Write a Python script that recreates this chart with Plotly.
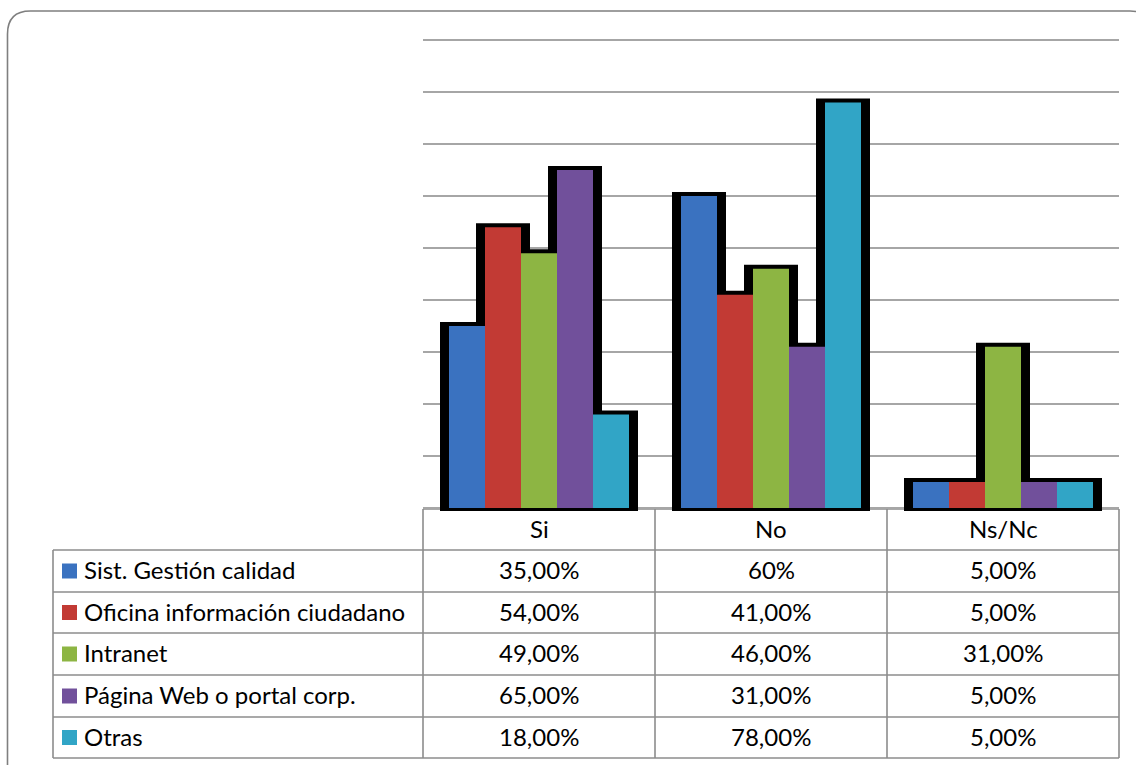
import plotly.graph_objects as go

# --- data -------------------------------------------------------------
categories = ["Si", "No", "Ns/Nc"]
series_names = [
    "Sist. Gestión calidad",
    "Oficina información ciudadano",
    "Intranet",
    "Página Web o portal corp.",
    "Otras",
]
sist_gestion = ["35,00%", "60%", "5,00%"]
oficina_info = ["54,00%", "41,00%", "5,00%"]
intranet = ["49,00%", "46,00%", "31,00%"]
pagina_web = ["65,00%", "31,00%", "5,00%"]
otras = ["18,00%", "78,00%", "5,00%"]
series_labels = [sist_gestion, oficina_info, intranet, pagina_web, otras]
colors = ["#3a72c0", "#c23a34", "#8db543", "#71509b", "#31a5c6"]
y_ticks = [0, 10, 20, 30, 40, 50, 60, 70, 80, 90]


def pct(s):
    return float(s.replace("%", "").replace(",", "."))


# --- page geometry (pixels) ------------------------------------------
W, H = 1136, 765
plot_l, plot_r = 423, 1119
zero_px, top_tick_px = 508, 40
plot_top, plot_bot = top_tick_px - 2, 511
px_per_x = (plot_r - plot_l) / len(categories)
px_per_y = (zero_px - top_tick_px) / y_ticks[-1]


def X(p):
    return p / W


def Y(p):
    return 1 - p / H


bar_w = 36 / px_per_x
group_w = bar_w * len(series_names)
side_pad = 9 / px_per_x
top_pad = 4 / px_per_y
y_min = -(plot_bot - zero_px) / px_per_y
y_max = y_ticks[-1] + (top_tick_px - plot_top) / px_per_y

xs = list(range(len(categories)))
fig = go.Figure()

# black silhouette behind each group
for i, labels in enumerate(series_labels):
    vals = [pct(s) for s in labels]
    fig.add_trace(go.Bar(
        x=xs, y=[v + top_pad - y_min for v in vals], base=y_min,
        width=bar_w + 2 * side_pad, offset=-group_w / 2 + i * bar_w - side_pad,
        marker=dict(color="#000000", line=dict(width=0)),
        hoverinfo="skip", showlegend=False,
    ))

# coloured bars
for i, (name, labels) in enumerate(zip(series_names, series_labels)):
    vals = [pct(s) for s in labels]
    fig.add_trace(go.Bar(
        x=xs, y=vals, name=name,
        width=bar_w, offset=-group_w / 2 + i * bar_w,
        marker=dict(color=colors[i], line=dict(width=0)),
        showlegend=False,
    ))

# --- data table below the plot ---------------------------------------
font = dict(family="Lato, 'Open Sans', sans-serif", size=24, color="#000000")
line_c = "#8c8c8c"
shapes = []
annotations = []

col_edges = [plot_l + k * px_per_x for k in range(len(categories) + 1)]
head_top, head_bot = 509, 550
row_edges = [550, 592, 633, 675, 717, 758]
tbl_left = 53
text_dy = -1.5


def hline(x0, x1, y):
    shapes.append(dict(type="line", xref="paper", yref="paper",
                       x0=X(x0), x1=X(x1), y0=Y(y), y1=Y(y),
                       line=dict(color=line_c, width=1.6), layer="below"))


def vline(x, y0, y1):
    shapes.append(dict(type="line", xref="paper", yref="paper",
                       x0=X(x), x1=X(x), y0=Y(y0), y1=Y(y1),
                       line=dict(color=line_c, width=1.6), layer="below"))


hline(col_edges[0], col_edges[-1], head_top)
for y in row_edges:
    hline(tbl_left, col_edges[-1], y)
for x in col_edges:
    vline(x, head_top, row_edges[-1])
vline(tbl_left, row_edges[0], row_edges[-1])

for k, cat in enumerate(categories):
    cx = (col_edges[k] + col_edges[k + 1]) / 2
    annotations.append(dict(text=cat, x=X(cx), y=Y((head_top + head_bot) / 2 + text_dy),
                            xref="paper", yref="paper", showarrow=False,
                            xanchor="center", yanchor="middle", font=font))

for r, (name, labels) in enumerate(zip(series_names, series_labels)):
    cy = (row_edges[r] + row_edges[r + 1]) / 2
    shapes.append(dict(type="rect", xref="paper", yref="paper",
                       x0=X(62), x1=X(77), y0=Y(cy - 7.5), y1=Y(cy + 7.5),
                       fillcolor=colors[r], line=dict(width=0), layer="below"))
    annotations.append(dict(text=name, x=X(82), y=Y(cy + text_dy),
                            xref="paper", yref="paper", showarrow=False,
                            xanchor="left", yanchor="middle", font=font))
    for k, s in enumerate(labels):
        cx = (col_edges[k] + col_edges[k + 1]) / 2
        annotations.append(dict(text=s, x=X(cx), y=Y(cy + text_dy),
                                xref="paper", yref="paper", showarrow=False,
                                xanchor="center", yanchor="middle", font=font))

# rounded chart-area border
r_c = 23
bx0, by0, bx1, by1 = 7.5, 11, 1153, 800
path = (f"M {X(bx0)},{Y(by1)} L {X(bx0)},{Y(by0 + r_c)} "
        f"Q {X(bx0)},{Y(by0)} {X(bx0 + r_c)},{Y(by0)} "
        f"L {X(bx1 - r_c)},{Y(by0)} Q {X(bx1)},{Y(by0)} {X(bx1)},{Y(by0 + r_c)} "
        f"L {X(bx1)},{Y(by1)}")
shapes.append(dict(type="path", xref="paper", yref="paper", path=path,
                   line=dict(color="#7f7f7f", width=1.6), layer="below"))

fig.update_layout(
    width=W, height=H,
    margin=dict(l=0, r=0, t=0, b=0),
    paper_bgcolor="#ffffff", plot_bgcolor="#ffffff",
    barmode="overlay",
    xaxis=dict(domain=[X(plot_l), X(plot_r)], range=[-0.5, len(categories) - 0.5],
               showgrid=False, zeroline=False, showticklabels=False, ticks="",
               fixedrange=True),
    yaxis=dict(domain=[Y(plot_bot), Y(plot_top)], range=[y_min, y_max],
               tickmode="array", tickvals=y_ticks,
               showgrid=True, gridcolor="#a6a6a6", gridwidth=2,
               zeroline=False, showticklabels=False, ticks="", fixedrange=True),
    shapes=shapes,
    annotations=annotations,
    showlegend=False,
)

fig.write_html("out.html")
